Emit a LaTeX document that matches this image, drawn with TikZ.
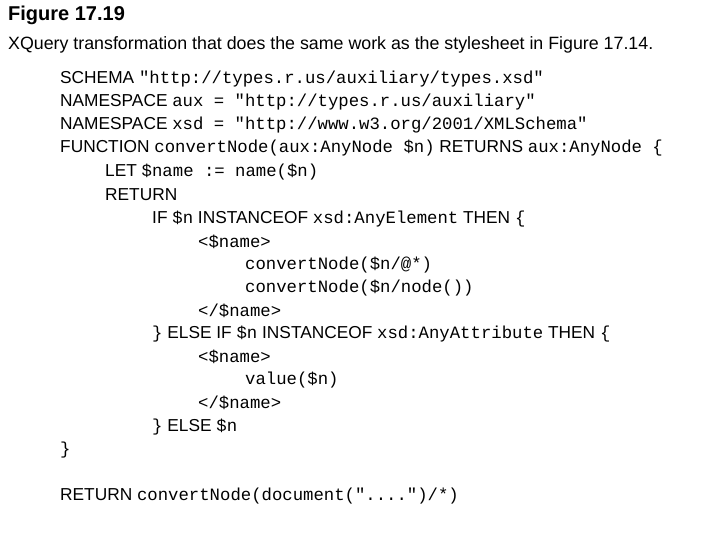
\documentclass[tikz,border=0pt]{standalone}
\usepackage{fontspec}
\setmainfont{Liberation Sans}
\setmonofont{Liberation Mono}
\newcommand{\cd}[1]{{\ttfamily #1}}
\begin{document}
\begin{tikzpicture}[x=1pt,y=-1pt,
  codeline/.style={anchor=west,inner sep=0pt,font=\fontsize{17.3}{19}\selectfont}]

\useasboundingbox (0,0) rectangle (720,540);

% heading
\node[anchor=west,inner sep=0pt,font=\fontsize{20}{23}\bfseries] (title) at (8,15) {Figure 17.19};
\node[anchor=west,inner sep=0pt,font=\fontsize{17.8}{20}\selectfont] (caption) at (8,45)
  {XQuery transformation that does the same work as the stylesheet in Figure 17.14.};

% code
\node[codeline] (l1) at (60,79) {SCHEMA \cd{"http://types.r.us/auxiliary/types.xsd"}};
\node[codeline] (l2) at (60,102) {NAMESPACE \cd{aux = "http://types.r.us/auxiliary"}};
\node[codeline] (l3) at (60,125) {NAMESPACE \cd{xsd = "http://www.w3.org/2001/XMLSchema"}};
\node[codeline] (l4) at (60,148) {FUNCTION \cd{convertNode(aux:AnyNode \$n)} RETURNS \cd{aux:AnyNode \{}};
\node[codeline] (l5) at (105,172) {LET \cd{\$name := name(\$n)}};
\node[codeline] (l6) at (105,195) {RETURN};
\node[codeline] (l7) at (152,219) {IF \cd{\$n} INSTANCEOF \cd{xsd:AnyElement} THEN \cd{\{}};
\node[codeline] (l8) at (198,242) {\cd{<\$name>}};
\node[codeline] (l9) at (245,265) {\cd{convertNode(\$n/@*)}};
\node[codeline] (l10) at (245,288) {\cd{convertNode(\$n/node())}};
\node[codeline] (l11) at (198,311) {\cd{</\$name>}};
\node[codeline] (l12) at (152,334) {\cd{\}} ELSE IF \cd{\$n} INSTANCEOF \cd{xsd:AnyAttribute} THEN \cd{\{}};
\node[codeline] (l13) at (198,357) {\cd{<\$name>}};
\node[codeline] (l14) at (245,380) {\cd{value(\$n)}};
\node[codeline] (l15) at (198,403) {\cd{</\$name>}};
\node[codeline] (l16) at (152,427) {\cd{\}} ELSE \cd{\$n}};
\node[codeline] (l17) at (60,450) {\cd{\}}};
\node[codeline] (l18) at (60,496) {RETURN \cd{convertNode(document("....")/*)}};

\end{tikzpicture}
\end{document}
